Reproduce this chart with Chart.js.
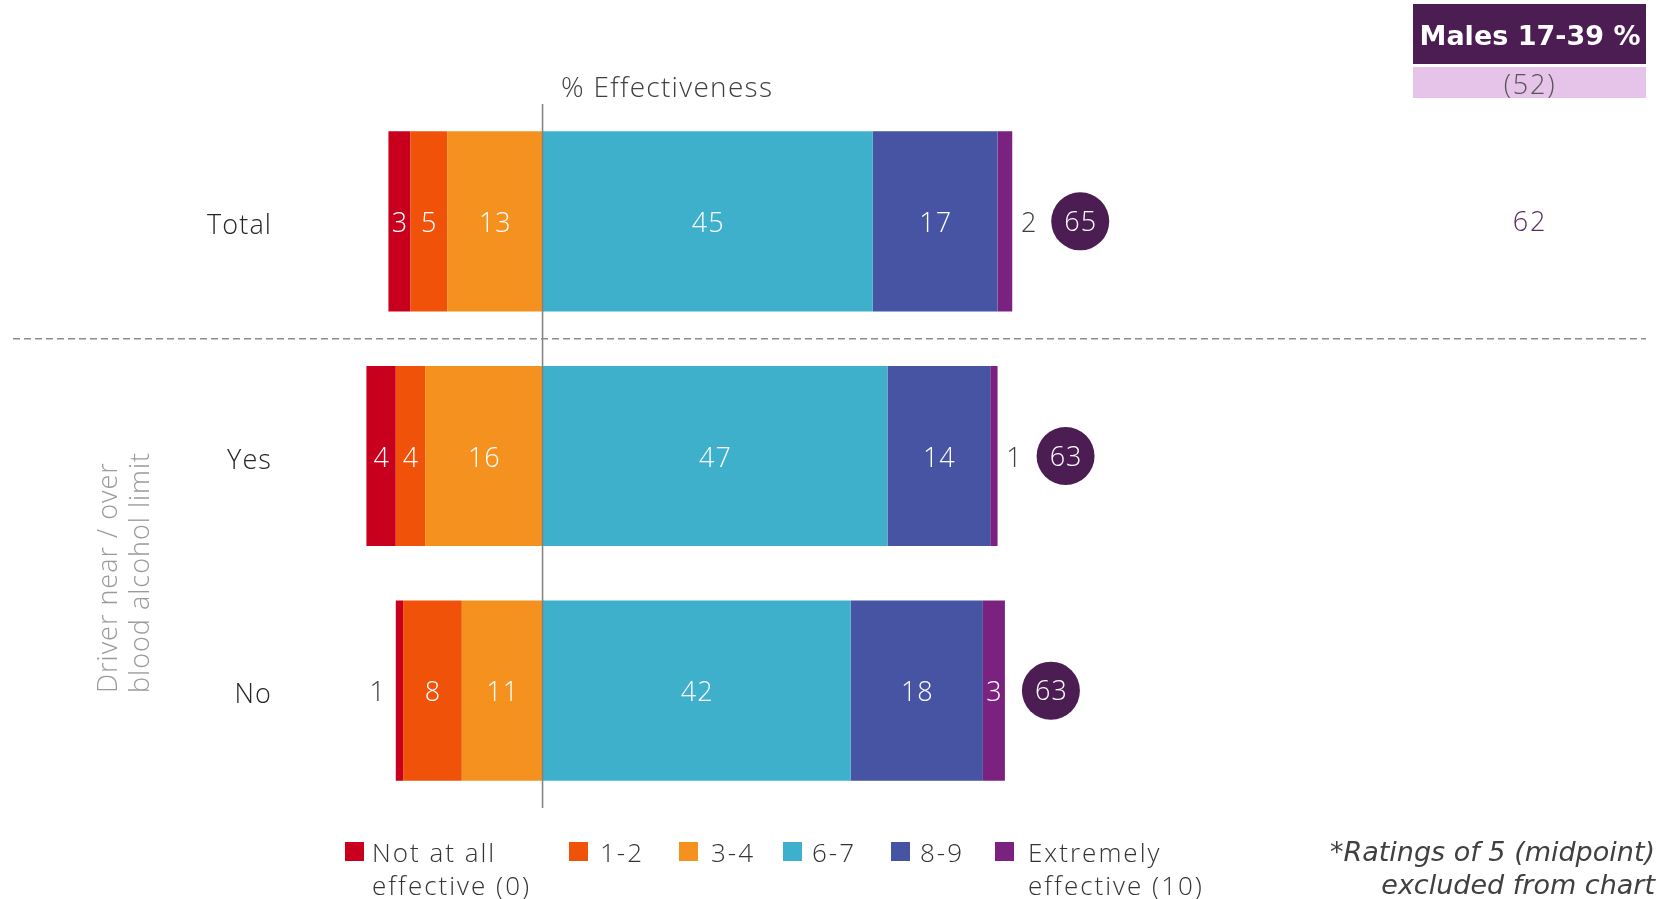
<!DOCTYPE html>
<html>
<head>
<meta charset="utf-8">
<script src="https://cdn.jsdelivr.net/npm/chart.js@4.4.1/dist/chart.umd.min.js"></script>
<style>
  html, body { margin: 0; padding: 0; background: #ffffff; overflow: hidden; }
  canvas { display: block; }
</style>
</head>
<body>
<canvas id="chart" width="1660" height="899"></canvas>
<script>
// Rows of the chart
const categories = ['Total', 'Yes', 'No'];

// Share of ratings per band (%); ratings of 5 are left out
const notAtAll  = [3, 4, 1];
const rating12  = [5, 4, 8];
const rating34  = [13, 16, 11];
const rating67  = [45, 47, 42];
const rating89  = [17, 14, 18];
const extremely = [2, 1, 3];

// Net effective score shown in the circles
const netEffective = [65, 63, 63];

// Series names, in legend order (multi-line names as arrays)
const bandNames = [
  ['Not at all', 'effective (0)'],
  ['1-2'],
  ['3-4'],
  ['6-7'],
  ['8-9'],
  ['Extremely', 'effective (10)']
];
const bandColors = ['#c8001e', '#f0520a', '#f5921f', '#3fb0cc', '#4654a3', '#7b2281'];

const axisTitle = '% Effectiveness';
const groupTitle = ['Driver near / over', 'blood alcohol limit'];
const segmentHeader = 'Males 17-39 %';
const segmentBase = '(52)';
const segmentScores = ['62'];
const footnote = ['*Ratings of 5 (midpoint)', 'excluded from chart'];

const LIGHT = '"Open Sans", Lato, Roboto, sans-serif';
const VERDANA = '"DejaVu Sans", Verdana, sans-serif';

// Negative bands stack outward from zero: 3-4 first, then 1-2, then 0
const datasets = [
  { label: '3-4', data: rating34.map(v => -v), backgroundColor: bandColors[2] },
  { label: '1-2', data: rating12.map(v => -v), backgroundColor: bandColors[1] },
  { label: 'Not at all effective (0)', data: notAtAll.map(v => -v), backgroundColor: bandColors[0] },
  { label: '6-7', data: rating67, backgroundColor: bandColors[3] },
  { label: '8-9', data: rating89, backgroundColor: bandColors[4] },
  { label: 'Extremely effective (10)', data: extremely, backgroundColor: bandColors[5] }
].map(d => Object.assign(d, { borderWidth: 0, categoryPercentage: 1, barPercentage: 0.768 }));

function lightFont(ctx, size, spacing) {
  ctx.font = '300 ' + size + 'px ' + LIGHT;
  ctx.letterSpacing = spacing + 'px';
}

const decorPlugin = {
  id: 'decor',
  afterDatasetsDraw(chart) {
    const { ctx, scales: { x, y }, chartArea } = chart;
    ctx.save();

    // zero line
    const x0 = x.getPixelForValue(0);
    ctx.strokeStyle = '#808080';
    ctx.lineWidth = 1.5;
    ctx.beginPath();
    ctx.moveTo(x0, chartArea.top);
    ctx.lineTo(x0, chartArea.bottom);
    ctx.stroke();

    // dashed separator between Total and the sub-groups
    const ySep = (y.getPixelForValue(0) + y.getPixelForValue(1)) / 2;
    ctx.setLineDash([7, 4]);
    ctx.strokeStyle = '#8c8c8c';
    ctx.lineWidth = 1.5;
    ctx.beginPath();
    ctx.moveTo(13, ySep);
    ctx.lineTo(1646, ySep);
    ctx.stroke();
    ctx.setLineDash([]);

    // segment value labels
    ctx.textBaseline = 'middle';
    lightFont(ctx, 27, 1);
    chart.data.datasets.forEach((ds, di) => {
      const meta = chart.getDatasetMeta(di);
      meta.data.forEach((bar, i) => {
        const v = Math.abs(ds.data[i]);
        const props = bar.getProps(['x', 'y', 'base'], true);
        const left = Math.min(props.x, props.base);
        const right = Math.max(props.x, props.base);
        ctx.textAlign = 'center';
        if (v >= 3) {
          ctx.fillStyle = '#ffffff';
          ctx.fillText(String(v), (left + right) / 2 + 0.5, props.y + 3);
        } else {
          ctx.fillStyle = '#404040';
          const px = ds.data[i] < 0 ? left - 18 : right + 17;
          ctx.fillText(String(v), px, props.y + 3);
        }
      });
    });

    // net score circles to the right of each bar
    categories.forEach((c, i) => {
      const posTotal = rating67[i] + rating89[i] + extremely[i];
      const end = x.getPixelForValue(posTotal);
      const cx = end + (extremely[i] < 3 ? 68 : 46);
      const cy = y.getPixelForValue(i);
      ctx.fillStyle = '#4b1d52';
      ctx.beginPath();
      ctx.arc(cx, cy, 29, 0, Math.PI * 2);
      ctx.fill();
      ctx.fillStyle = '#ffffff';
      ctx.textAlign = 'center';
      lightFont(ctx, 27, 1);
      ctx.fillText(String(netEffective[i]), cx + 0.5, cy + 2);
    });

    // row labels
    ctx.fillStyle = '#262626';
    ctx.textAlign = 'right';
    lightFont(ctx, 27, 1.1);
    categories.forEach((c, i) => {
      ctx.fillText(c, 272, y.getPixelForValue(i) + 5);
    });

    // axis title
    ctx.fillStyle = '#404040';
    ctx.textAlign = 'left';
    lightFont(ctx, 28, 1.3);
    ctx.fillText(axisTitle, 561, 89);

    // rotated group title
    ctx.save();
    ctx.translate(0, 693);
    ctx.rotate(-Math.PI / 2);
    ctx.fillStyle = '#9a9a9a';
    ctx.textAlign = 'left';
    ctx.textBaseline = 'alphabetic';
    lightFont(ctx, 27, 1);
    ctx.fillText(groupTitle[0], 0, 117);
    ctx.fillText(groupTitle[1], 0, 149);
    ctx.restore();

    // segment header block
    ctx.fillStyle = '#4b1d52';
    ctx.fillRect(1413, 4, 233, 60);
    ctx.fillStyle = '#e6c3e8';
    ctx.fillRect(1413, 67, 233, 31);
    ctx.textAlign = 'center';
    ctx.textBaseline = 'middle';
    ctx.fillStyle = '#ffffff';
    ctx.letterSpacing = '0px';
    ctx.font = 'bold 27px ' + VERDANA;
    ctx.fillText(segmentHeader, 1530, 38);
    ctx.fillStyle = '#555555';
    lightFont(ctx, 27, 1.8);
    ctx.fillText(segmentBase, 1530, 86);
    ctx.fillStyle = '#5b2b63';
    ctx.fillText(segmentScores[0], 1530, y.getPixelForValue(0) + 2);

    // legend
    const legendX = [345, 569, 679, 783, 891, 995];
    const legendTextX = [372, 600, 711, 812, 920, 1028];
    ctx.textAlign = 'left';
    lightFont(ctx, 26, 2);
    bandNames.forEach((name, k) => {
      ctx.fillStyle = bandColors[k];
      ctx.fillRect(legendX[k], 842, 19, 19);
      ctx.fillStyle = '#333333';
      name.forEach((line, j) => ctx.fillText(line, legendTextX[k], 855 + j * 33));
    });

    // footnote
    ctx.textAlign = 'right';
    ctx.fillStyle = '#404040';
    ctx.letterSpacing = '0px';
    ctx.font = 'italic 27px ' + VERDANA;
    footnote.forEach((line, j) => ctx.fillText(line, 1655, 854 + j * 33));

    ctx.restore();
  }
};

new Chart(document.getElementById('chart'), {
  type: 'bar',
  data: { labels: categories, datasets },
  options: {
    indexAxis: 'y',
    responsive: false,
    animation: false,
    devicePixelRatio: 1,
    layout: { padding: { left: 249, right: 90, top: 104, bottom: 91 } },
    scales: {
      x: { stacked: true, min: -40, max: 140, display: false },
      y: { stacked: true, display: false }
    },
    plugins: {
      legend: { display: false },
      tooltip: { enabled: false }
    }
  },
  plugins: [decorPlugin]
});
</script>
</body>
</html>
